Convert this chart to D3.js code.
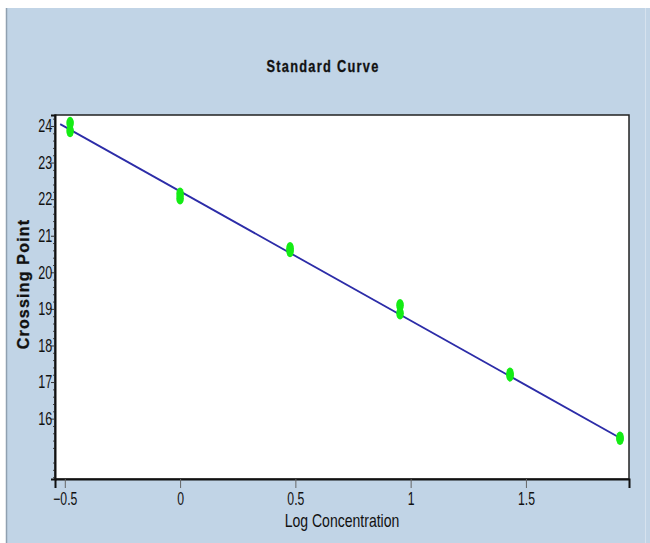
<!DOCTYPE html>
<html>
<head>
<meta charset="utf-8">
<script src="https://cdn.jsdelivr.net/npm/d3@7"></script>
<style>
  html, body { margin: 0; padding: 0; background: #ffffff; }
  svg { display: block; }
</style>
</head>
<body>
<svg id="chart" width="650" height="543"></svg>
<script>
// ---- data ----
const logConc = [-0.477, -0.477, 0, 0, 0.477, 0.477, 0.954, 0.954, 1.431, 1.431, 1.908, 1.908];
const crossingPoint = [24.08, 23.86, 22.15, 22.02, 20.66, 20.58, 19.10, 18.88, 17.23, 17.18, 15.48, 15.45];
const fitX = [-0.52, 1.92];
const fitY = [24.05, 15.43];
const xTicks = [-0.5, 0, 0.5, 1, 1.5];
const yTicks = [16, 17, 18, 19, 20, 21, 22, 23, 24];
const title = "Standard Curve";
const xLabel = "Log Concentration";
const yLabel = "Crossing Point";

// ---- layout ----
const W = 650, H = 543;
const plot = { left: 55, top: 115, right: 629, bottom: 479 };
const sans = "'Liberation Sans', Arial, sans-serif";

const svg = d3.select("#chart");

// background
svg.append("rect").attr("x", 0).attr("y", 0).attr("width", W).attr("height", H).attr("fill", "#ffffff");
svg.append("rect").attr("x", 7).attr("y", 8).attr("width", W - 7).attr("height", H - 8).attr("fill", "#c1d4e6");
svg.append("line").attr("x1", 6.5).attr("x2", 6.5).attr("y1", 8).attr("y2", H).attr("stroke", "#8fa0b0").attr("stroke-width", 1.5);
svg.append("line").attr("x1", 645.5).attr("x2", 645.5).attr("y1", 8).attr("y2", H).attr("stroke", "#d6e2ee").attr("stroke-width", 1);

// plot area
svg.append("rect")
  .attr("x", plot.left).attr("y", plot.top)
  .attr("width", plot.right - plot.left).attr("height", plot.bottom - plot.top)
  .attr("fill", "#ffffff").attr("stroke", "#222").attr("stroke-width", 1.5);

const x = d3.scaleLinear().domain([-0.5425, 1.947]).range([plot.left, plot.right]);
const y = d3.scaleLinear().domain([14.35, 24.3]).range([plot.bottom, plot.top]);

// x axis
const xAxis = svg.append("g").attr("transform", `translate(0,${plot.bottom})`)
  .call(d3.axisBottom(x).tickValues(xTicks).tickSize(9).tickPadding(4)
    .tickFormat(d => d === 0 ? "0" : d3.format("")(d)));
xAxis.select(".domain").attr("stroke", "#111").attr("stroke-width", 2);
xAxis.selectAll(".tick line").attr("stroke", "#666");
xAxis.selectAll("text").attr("font-family", sans).attr("font-size", 18).attr("fill", "#111")
  .attr("transform", "scale(0.68,1)");

// y axis minor ticks
const minor = d3.range(14.4, 24.25, 0.2).filter(v => Math.abs(v - Math.round(v)) > 0.01);
svg.append("g").attr("transform", `translate(${plot.left},0)`)
  .call(d3.axisLeft(y).tickValues(minor).tickSize(2).tickFormat(""))
  .call(g => g.select(".domain").remove())
  .selectAll(".tick line").attr("stroke", "#444");

// y axis
const yAxis = svg.append("g").attr("transform", `translate(${plot.left},0)`)
  .call(d3.axisLeft(y).tickValues(yTicks).tickSize(4).tickPadding(0));
yAxis.select(".domain").attr("stroke", "#111").attr("stroke-width", 2);
yAxis.selectAll(".tick line").attr("stroke", "#333");
yAxis.selectAll("text").attr("font-family", sans).attr("font-size", 18).attr("fill", "#111")
  .attr("transform", "scale(0.7,1)");

// fit line
svg.append("path")
  .datum(fitX.map((v, i) => [v, fitY[i]]))
  .attr("d", d3.line().x(d => x(d[0])).y(d => y(d[1])))
  .attr("fill", "none").attr("stroke", "#2c2ca8").attr("stroke-width", 1.8);

// points
svg.append("g").selectAll("ellipse")
  .data(logConc.map((v, i) => [v, crossingPoint[i]]))
  .join("ellipse")
  .attr("cx", d => x(d[0])).attr("cy", d => y(d[1]))
  .attr("rx", 3.8).attr("ry", 6.2)
  .attr("fill", "#14ec14");

// title
svg.append("text")
  .attr("transform", "translate(323,72) scale(0.8,1)")
  .attr("text-anchor", "middle")
  .attr("font-family", sans).attr("font-weight", "bold").attr("font-size", 16)
  .attr("letter-spacing", 1.6).attr("fill", "#111")
  .attr("stroke", "#111").attr("stroke-width", 0.3)
  .text(title);

// x label
svg.append("text")
  .attr("transform", "translate(342,527) scale(0.78,1)")
  .attr("text-anchor", "middle")
  .attr("font-family", sans).attr("font-size", 18).attr("fill", "#111")
  .text(xLabel);

// y label
svg.append("text")
  .attr("transform", `translate(29,284) rotate(-90)`)
  .attr("text-anchor", "middle")
  .attr("font-family", sans).attr("font-weight", "bold").attr("font-size", 16)
  .attr("letter-spacing", 1.2).attr("fill", "#111")
  .attr("stroke", "#111").attr("stroke-width", 0.3)
  .text(yLabel);
</script>
</body>
</html>
